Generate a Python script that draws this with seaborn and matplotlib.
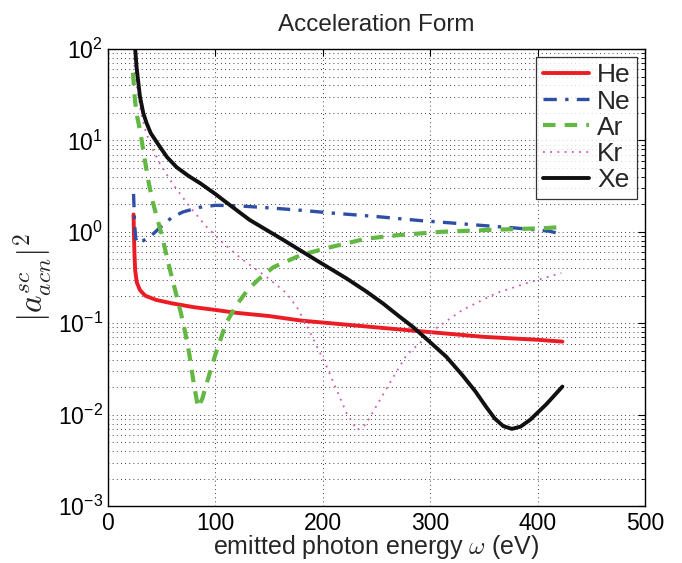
import numpy as np
import pandas as pd
import matplotlib
matplotlib.use("Agg")
import matplotlib.pyplot as plt
import seaborn as sns
from matplotlib.ticker import LogLocator, FixedLocator

# ---- data ----
he_x = [24, 24.3, 24.8, 25.5, 27, 30, 35, 45, 60, 80, 100, 120, 150, 180, 220, 260, 300, 350, 400, 423]
he_y = [1.55, 1.0, 0.6, 0.38, 0.28, 0.23, 0.2, 0.18, 0.165, 0.15, 0.14, 0.13, 0.12, 0.107, 0.097, 0.088, 0.08, 0.071, 0.066, 0.063]

ne_x = [24, 24.5, 25, 26, 28, 33, 40, 50, 60, 70, 85, 100, 120, 150, 180, 210, 250, 290, 320, 350, 380, 410, 422]
ne_y = [2.6, 1.8, 1.2, 0.85, 0.75, 0.8, 0.9, 1.15, 1.45, 1.65, 1.85, 1.95, 1.93, 1.83, 1.72, 1.6, 1.47, 1.33, 1.25, 1.17, 1.1, 1.02, 0.95]

ar_x = [23.5, 25, 27, 30, 34, 38, 42, 46, 50, 54, 58, 64, 68, 72, 76, 80, 84, 88, 92, 100, 110, 120, 130, 140, 154, 180, 205, 240, 270, 310, 355, 408, 423]
ar_y = [55, 30, 19, 13, 6.6, 3.5, 2.1, 1.4, 0.95, 0.6, 0.38, 0.2, 0.13, 0.08, 0.045, 0.022, 0.012, 0.015, 0.022, 0.045, 0.1, 0.16, 0.23, 0.3, 0.41, 0.56, 0.67, 0.84, 0.92, 1.0, 1.05, 1.1, 1.13]

kr_x = [24, 27, 31, 35, 39, 48, 60, 76, 92, 107, 125, 148, 166, 176, 186, 204, 222, 232, 240, 250, 265, 278, 306, 330, 362, 392, 422]
kr_y = [80, 40, 20, 13, 9.4, 5.7, 3.4, 1.9, 1.13, 0.76, 0.5, 0.32, 0.215, 0.15, 0.09, 0.033, 0.0105, 0.0068, 0.0078, 0.0125, 0.025, 0.045, 0.089, 0.14, 0.215, 0.28, 0.355]

xe_x = [25.5, 27, 30, 33, 36, 40, 46, 55, 64, 75, 86, 100, 111, 132, 163, 194, 222, 240, 256, 270, 284, 300, 315, 330, 342, 352, 360, 368, 376, 384, 393, 408, 423]
xe_y = [100, 60, 30, 20, 15.6, 12, 9.4, 6.6, 5.1, 4.1, 3.4, 2.6, 2.07, 1.35, 0.82, 0.49, 0.31, 0.225, 0.165, 0.122, 0.091, 0.062, 0.043, 0.027, 0.018, 0.0122, 0.0091, 0.0075, 0.0070, 0.0074, 0.0088, 0.013, 0.0203]

series = [
    ("He", he_x, he_y, "#ec1c24", "-", 2.8),
    ("Ne", ne_x, ne_y, "#2e4fa3", (0, (4, 2.5, 1, 2.5)), 2.4),
    ("Ar", ar_x, ar_y, "#62b843", (0, (3, 2.2)), 3.0),
    ("Kr", kr_x, kr_y, "#cc5ab4", (0, (1, 3)), 1.3),
    ("Xe", xe_x, xe_y, "#111111", "-", 2.8),
]

sns.set_style("white")
plt.rcParams["font.family"] = ["Liberation Sans", "DejaVu Sans"]
plt.rcParams["mathtext.fontset"] = "cm"

fig = plt.figure(figsize=(6.82, 5.63), dpi=100)
ax = fig.add_axes([0.158, 0.101, 0.788, 0.812])

for name, xs, ys, col, ls, lw in series:
    sns.lineplot(x=xs, y=ys, ax=ax, color=col, linestyle=ls, linewidth=lw,
                 label=name, sort=False)

ax.set_yscale("log")
ax.set_xlim(0, 500)
ax.set_ylim(1e-3, 1e2)
ax.xaxis.set_major_locator(FixedLocator([0, 100, 200, 300, 400, 500]))
ax.yaxis.set_major_locator(LogLocator(base=10, numticks=10))
ax.yaxis.set_minor_locator(LogLocator(base=10, subs=np.arange(2, 10), numticks=20))

ax.grid(True, which="major", axis="both", color="black", linestyle=(0, (1, 4)), linewidth=0.6)
ax.grid(True, which="minor", axis="y", color="black", linestyle=(0, (1, 4)), linewidth=0.6)

ax.tick_params(which="both", direction="in", top=True, right=True, labelsize=16.5, colors="black")
ax.tick_params(which="major", length=5, width=0.8)
ax.tick_params(which="minor", length=3, width=0.6)
ax.tick_params(axis="x", which="major", pad=4)
for sp in ax.spines.values():
    sp.set_color("black")
    sp.set_linewidth(1.0)

ax.set_title("Acceleration Form", fontsize=17.5, pad=13)
ax.set_xlabel(r"emitted photon energy $\omega$ (eV)", fontsize=18, labelpad=-1)
ax.set_ylabel(r"$|a^{sc}_{acn}|^2$", fontsize=24, labelpad=2)

leg = ax.legend(loc="upper right", fontsize=19, frameon=True, fancybox=False,
                edgecolor="black", handlelength=1.75, handletextpad=0.3,
                labelspacing=0.08, borderpad=0.25, borderaxespad=0.3)
leg.get_frame().set_linewidth(0.9)

fig.savefig("out.png", dpi=100, facecolor="white")
